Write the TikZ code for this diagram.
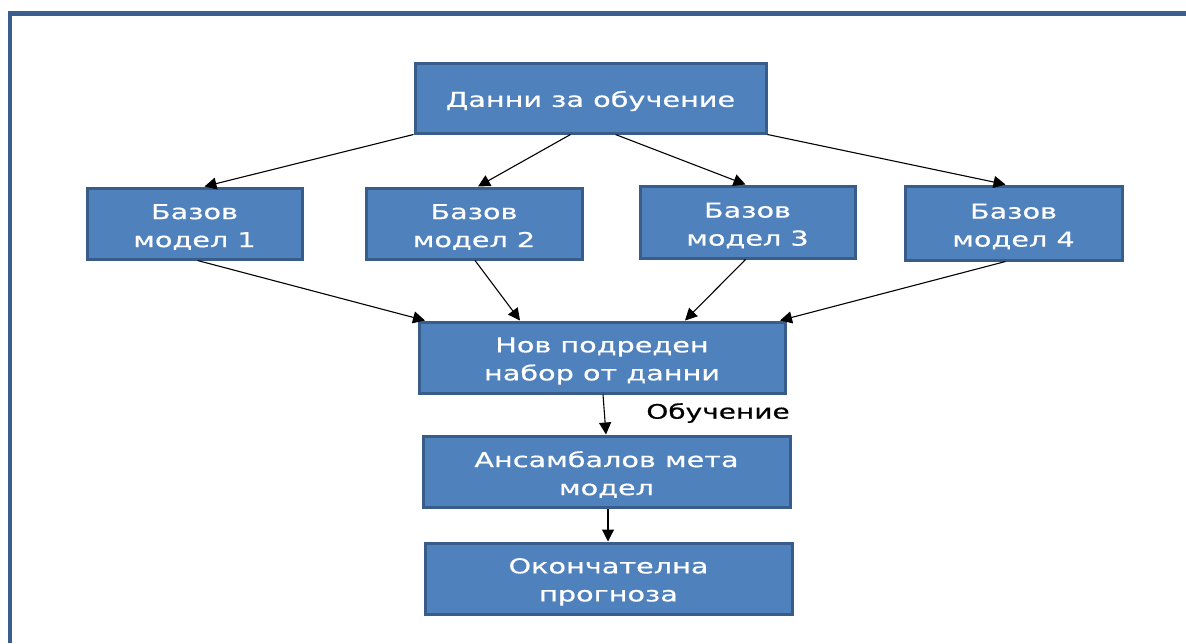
\documentclass[tikz,border=0pt]{standalone}
\usepackage{fontspec}
\setmainfont{DejaVu Sans}[FakeStretch=1.4, FakeBold=0.6]
\usetikzlibrary{arrows.meta}
\definecolor{boxfill}{HTML}{4F81BD}
\definecolor{boxline}{HTML}{385D8A}
\definecolor{frameline}{HTML}{3A5F8F}
\newcommand{\topstrut}{\rule{0pt}{22pt}}
\tikzset{
  blk/.style={draw=boxline, line width=3pt, fill=boxfill, text=white, rectangle, inner sep=0pt,
    align=center, font=\fontsize{20.5}{28}\selectfont},
  conn/.style={-{Triangle[length=12pt,width=12pt]}, line width=1.1pt, black},
}
\begin{document}
\begin{tikzpicture}[x=1pt,y=-1pt]
\useasboundingbox (0,0) rectangle (1186,643);
\fill[white] (0,0) rectangle (1186,643);
\draw[frameline, line width=4.5pt] (10,643) -- (10,13.5) -- (1186,13.5);

\node[blk, minimum width=351pt, minimum height=70pt] (D) at (590.5,98) {\topstrut Данни за обучение};
\node[blk, minimum width=215pt, minimum height=71pt] (B1) at (194.5,223.5) {\topstrut Базов\\модел 1};
\node[blk, minimum width=216pt, minimum height=71pt] (B2) at (474,223.5) {\topstrut Базов\\модел 2};
\node[blk, minimum width=215pt, minimum height=72pt] (B3) at (747.5,222) {\topstrut Базов\\модел 3};
\node[blk, minimum width=217pt, minimum height=74pt] (B4) at (1013.5,223) {\topstrut Базов\\модел 4};
\node[blk, minimum width=366pt, minimum height=71pt] (N) at (602,357.5) {\topstrut Нов подреден\\набор от данни};
\node[blk, minimum width=367pt, minimum height=71pt] (A) at (606.5,471.5) {\topstrut Ансамбалов мета\\модел};
\node[blk, minimum width=367pt, minimum height=71pt] (O) at (608.5,578.5) {\topstrut Окончателна\\прогноза};
\node[font=\fontsize{20}{22}\selectfont, text=black, inner sep=0pt] (L) at (718,413) {Обучение};

\draw[conn] (D.south west) -- ([xshift=10pt]B1.north);
\draw[conn] ([xshift=-20pt]D.south) -- ([xshift=4pt]B2.north);
\draw[conn] ([xshift=25pt]D.south) -- ([xshift=-2pt]B3.north);
\draw[conn] (D.south east) -- ([xshift=-8pt]B4.north);

\draw[conn] ([xshift=3pt]B1.south) -- ([xshift=-177pt]N.north);
\draw[conn] ([xshift=1pt]B2.south) -- ([xshift=-82pt]N.north);
\draw[conn] ([xshift=-2pt]B3.south) -- ([xshift=83pt]N.north);
\draw[conn] ([xshift=-8pt]B4.south) -- ([xshift=178pt]N.north);

\draw[conn] ([xshift=1pt]N.south) -- ([xshift=-0.5pt]A.north);
\draw[conn] ([xshift=1.5pt]A.south) -- ([xshift=-0.5pt]O.north);
\end{tikzpicture}
\end{document}
